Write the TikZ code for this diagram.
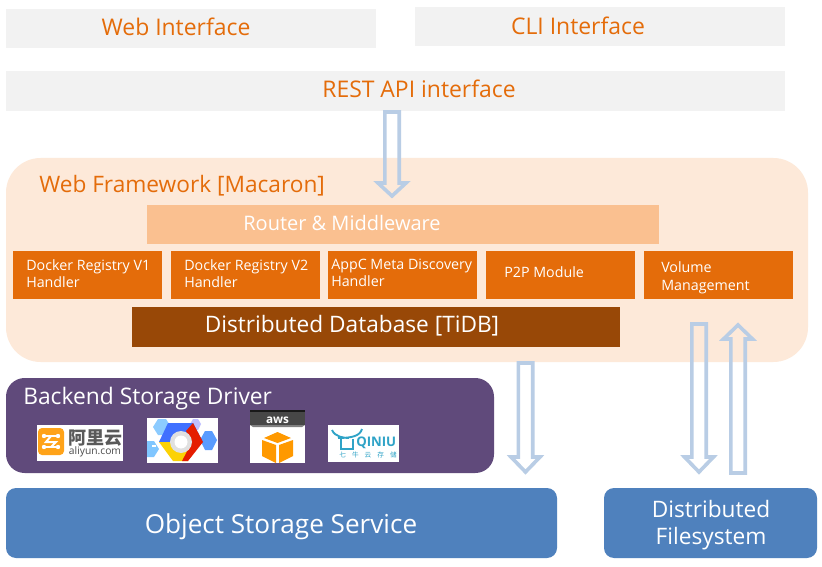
\documentclass[tikz,border=0pt]{standalone}
\usepackage{fontspec}
\setmainfont{Open Sans}
\newfontfamily\cjk{Noto Sans CJK SC}
\definecolor{greybar}{HTML}{F2F2F2}
\definecolor{orangetxt}{HTML}{E46C0A}
\definecolor{framefill}{HTML}{FDE9D9}
\definecolor{routerfill}{HTML}{FAC090}
\definecolor{dbfill}{HTML}{984807}
\definecolor{purplefill}{HTML}{604A7B}
\definecolor{bluefill}{HTML}{4F81BD}
\definecolor{arrowline}{HTML}{B9CDE5}
\definecolor{awsorange}{HTML}{FF9900}
\definecolor{qcol}{HTML}{2FA3C7}
\newcommand{\fs}[2][20]{\fontsize{#2}{#1}\selectfont}
\tikzset{
  x=0.75pt,y=-0.75pt,
  box/.style={rectangle,inner sep=0pt,outer sep=0pt,anchor=north west},
  greybox/.style={box,fill=greybar},
  handler/.style={box,fill=orangetxt,minimum width=111.75pt,minimum height=36pt},
  htext/.style={anchor=west,inner sep=0pt,text=white,align=left,font={\fs[12.75]{10.7}}},
  bluebox/.style={box,fill=bluefill,rounded corners=7.5pt},
  flow/.style={draw=arrowline,line width=2.7pt,line join=miter,fill=none},
  logo/.style={box,fill=white},
}
% #1 centre x, #2 tail y, #3 shoulder y, #4 tip y, #5 half shaft, #6 half head
\newcommand{\flowarrow}[6]{%
  \draw[flow] ({#1-#5},#2) -- ({#1+#5},#2) -- ({#1+#5},#3) -- ({#1+#6},#3) -- (#1,#4)
    -- ({#1-#6},#3) -- ({#1-#5},#3) -- cycle;}
\begin{document}
\begin{tikzpicture}
\useasboundingbox (0,0) rectangle (822,567);
\fill[white] (0,0) rectangle (822,567);
% top bars
\node[greybox,minimum width=277.5pt,minimum height=29.25pt] (web) at (6,9) {};
\node[text=orangetxt,font=\fs{17.2}] (webt) at (176,27) {Web Interface};
\node[greybox,minimum width=277.5pt,minimum height=29.25pt] (cli) at (415,7) {};
\node[text=orangetxt,font=\fs{17.2}] (clit) at (578,26) {CLI Interface};
\node[greybox,minimum width=584.25pt,minimum height=30pt] (rest) at (6,71) {};
\node[text=orangetxt,font=\fs{17.2}] (restt) at (419,89) {REST API interface};
% framework
\node[box,fill=framefill,rounded corners=26pt,minimum width=601.5pt,minimum height=153pt] (frame) at (6,158) {};
\node[anchor=west,text=orangetxt,font=\fs{17},inner sep=0pt] (framet) at (39,186) {Web Framework [Macaron]};
\node[box,fill=routerfill,minimum width=384pt,minimum height=29.25pt] (router) at (147,205) {};
\node[text=white,font=\fs{15}] (routert) at (342,223) {Router \& Middleware};
\node[handler] (h1) at (13,251) {};
\node[htext] (h1t) at (26,274) {Docker Registry V1\\Handler};
\node[handler] (h2) at (171,251) {};
\node[htext] (h2t) at (184,274) {Docker Registry V2\\Handler};
\node[handler] (h3) at (328,251) {};
\node[htext] (h3t) at (331,273) {AppC Meta Discovery\\Handler};
\node[handler] (h4) at (486,251) {};
\node[htext] (h4t) at (504,272) {P2P Module};
\node[handler] (h5) at (644,251) {};
\node[htext,font={\fs[13.3]{10.7}}] (h5t) at (661,278) {Volume\\Management};
\node[box,fill=dbfill,minimum width=366pt,minimum height=30pt] (db) at (132,307) {};
\node[text=white,font=\fs{17}] (dbt) at (352,326) {Distributed Database [TiDB]};
% arrows
\flowarrow{392}{112}{183}{196}{7.2}{14}
\flowarrow{525.5}{363}{457}{472}{7.2}{14.5}
\flowarrow{699}{324}{457}{472}{7.2}{14.5}
\flowarrow{738}{473}{339}{325}{7.2}{14.5}
% backend
\node[box,fill=purplefill,rounded corners=14pt,minimum width=366pt,minimum height=71.25pt] (backend) at (6,378) {};
\node[anchor=west,text=white,font=\fs{17.1},inner sep=0pt] (backt) at (23,398.5) {Backend Storage Driver};
% aliyun logo
\node[logo,minimum width=64.5pt,minimum height=27pt] (ali) at (37,425) {};
\fill[awsorange!90!white,rounded corners=3pt] (38,428) rectangle (64,455);
\draw[white,line width=1.5pt,line cap=round] (44,436) -- (58,436) (44,447) -- (58,447);
\draw[white,line width=1.5pt,line cap=round] (51,436) -- (46,442) -- (56,442) -- (51,447);
\fill[white] (44,436) circle[radius=2.2] (58,436) circle[radius=2.2] (44,447) circle[radius=2.2] (58,447) circle[radius=2.2];
\node[font=\cjk\bfseries\fs{13.5},text=black!65,inner sep=0pt] (alic) at (95,438) {阿里云};
\node[font=\fs{7.7},text=black!70,inner sep=0pt] (alit) at (95,452) {aliyun.com};
% google cloud logo
\node[logo,minimum width=53.25pt,minimum height=33.75pt] (gcp) at (147,418) {};
\fill[blue!45!cyan!45!white] (153,427) -- (158,419) -- (166,419) -- (171,427) -- (166,435) -- (158,435) -- cycle;
\fill[blue!25!white] (190,424) -- (193,419) -- (198,419) -- (201,424) -- (198,430) -- (193,430) -- cycle;
\fill[blue!60!cyan!65!white] (200,440) -- (205,431) -- (212,431) -- (217,440) -- (212,450) -- (205,450) -- cycle;
\fill[blue!45!cyan!50!white] (147,441) -- (154,441) -- (159,449) -- (154,457) -- (147,457) -- cycle;
\fill[white] (152,445) rectangle (156,447);
\fill[blue!75!cyan!75!white] (159,442) -- (168,423) -- (193,423) -- (203,442) -- (192,442) -- (170,442) -- cycle;
\fill[yellow!70!orange] (159,442) -- (173,461) -- (188,461) -- (192,442) -- cycle;
\fill[red!75!orange!90!black] (193,423) -- (203,442) -- (188,461) -- (182,461) -- (192,442) -- (186,431) -- cycle;
\fill[black!12] (181,442) circle[radius=11];
\fill[white] (181,442) circle[radius=6.5];
% aws logo
\node[logo,minimum width=41.25pt,minimum height=39.75pt] (aws) at (250,410) {};
\fill[black!72] (250,411) rectangle (305,425);
\fill[black!90] (250,410) rectangle (305,411.5);
\fill[black!50] (250,425) -- (305,425) -- (302,427) -- (253,427) -- cycle;
\node[font=\bfseries\fs{8.8},text=white,inner sep=0pt] (awst) at (277.5,420) {aws};
\fill[awsorange] (262,440) -- (276,445) -- (276,463) -- (262,456) -- cycle;
\fill[awsorange] (293,440) -- (279,445) -- (279,463) -- (293,456) -- cycle;
\fill[awsorange] (264,438) -- (277.5,432) -- (291,438) -- (277.5,443) -- cycle;
% qiniu logo
\node[logo,minimum width=53.25pt,minimum height=27.75pt] (qiniu) at (328,425) {};
\draw[qcol,line width=1.4pt] (332,430) .. controls (335,437) and (344,438) .. (349,438) (362,429) .. controls (360,436) and (352,438) .. (338,438);
\draw[qcol,line width=1.4pt] (341,438) -- (341,449) -- (353,449) -- (353,439);
\node[font=\bfseries\fs{9.9},text=qcol,inner sep=0pt,anchor=west] (qt) at (356,443) {QINIU};
\node[font=\cjk\fs{5},text=qcol,inner sep=0pt] (qc) at (368,455) {七\hspace{4.5pt}牛\hspace{4.5pt}云\hspace{4.5pt}存\hspace{4.5pt}储};
% bottom
\node[bluebox,minimum width=413.25pt,minimum height=52.5pt] (obj) at (6,488) {};
\node[text=white,font=\fs{19.6}] (objt) at (281,527) {Object Storage Service};
\node[bluebox,minimum width=159.75pt,minimum height=52.5pt] (dfs) at (604,488) {};
\node[text=white,font={\fs[20.3]{17}},align=center] (dfst) at (711,525) {Distributed\\Filesystem};
\end{tikzpicture}
\end{document}
